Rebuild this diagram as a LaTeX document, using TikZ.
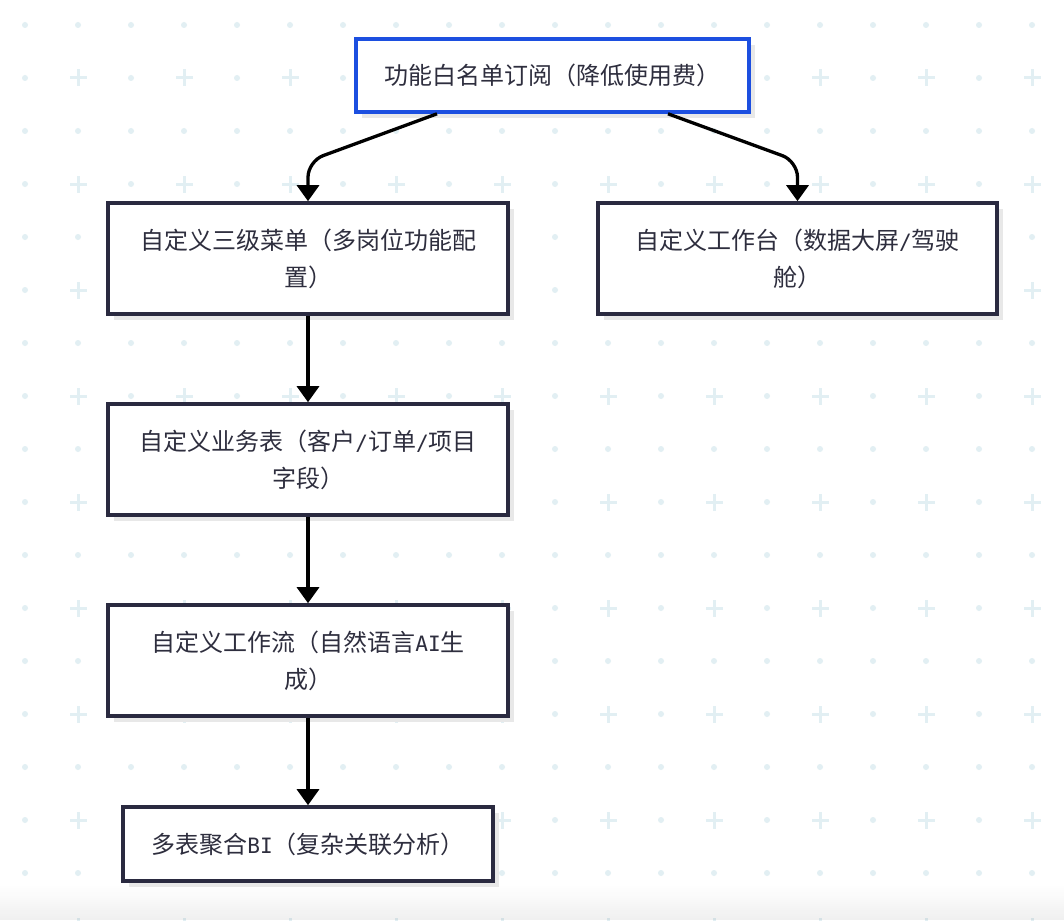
\documentclass[tikz,border=0pt]{standalone}
\usepackage{fontspec}
\setmainfont{Noto Sans CJK SC}
\newfontfamily\monof[Scale=0.88]{DejaVu Sans Mono}
\usetikzlibrary{arrows.meta,shadows}
\definecolor{gridc}{HTML}{E2EFF3}
\definecolor{txtc}{HTML}{2E2E3E}
\definecolor{bordc}{HTML}{2A2A40}
\definecolor{bluec}{HTML}{1C4FE0}
\definecolor{shadc}{HTML}{E8E8E8}
\newcommand{\mo}[1]{{\monof #1}}
\begin{document}
\begin{tikzpicture}[x=1pt,y=-1pt,
  box/.style={draw=bordc, line width=3.6pt, fill=white, text=txtc,
    align=center, font=\fontsize{24}{37}\selectfont, inner sep=0pt,
    drop shadow={opacity=1, fill=shadc, shadow xshift=6pt, shadow yshift=-6pt}},
  arr/.style={draw=black, line width=3.3pt, -{Triangle[length=16pt,width=22pt]}}]
\useasboundingbox (0,0) rectangle (1064,920);
\fill[white] (0,0) rectangle (1064,920);
% background grid
\foreach \i in {0,...,19}{
  \foreach \j in {0,...,17}{
    \pgfmathtruncatemacro{\isplus}{mod(\i,2)*mod(\j,2)}
    \ifnum\isplus=1
      \fill[gridc] ({25+53*\i-8.5},{25+53*\j-1.5}) rectangle ({25+53*\i+8.5},{25+53*\j+1.5});
      \fill[gridc] ({25+53*\i-1.5},{25+53*\j-8.5}) rectangle ({25+53*\i+1.5},{25+53*\j+8.5});
    \else
      \fill[gridc] ({25+53*\i},{25+53*\j}) circle (3);
    \fi
  }
}
% bottom fade
\foreach \k in {0,...,17}{
  \fill[black, fill opacity={\k*0.0035}] (0,{884+2*\k}) rectangle (1064,{886+2*\k});
}
% nodes
\node[box, draw=bluec, minimum width=393pt, minimum height=73pt] (top) at (552.5,75.5) {功能白名单订阅（降低使用费）};
\node[box, minimum width=400pt, minimum height=111pt] (a) at (308,258.5) {自定义三级菜单（多岗位功能配\\置）};
\node[box, minimum width=399pt, minimum height=111pt] (b) at (797.5,258.5) {自定义工作台（数据大屏\mo{/}驾驶\\舱）};
\node[box, minimum width=400pt, minimum height=111pt] (c) at (308,459.5) {自定义业务表（客户\mo{/}订单\mo{/}项目\\字段）};
\node[box, minimum width=400pt, minimum height=111pt] (d) at (308,660.5) {自定义工作流（自然语言\mo{AI}生\\成）};
\node[box, minimum width=370pt, minimum height=74pt] (e) at (308,844) {多表聚合\mo{BI}（复杂关联分析）};
% connectors
\draw[arr, rounded corners=16pt] ([xshift=-115.5pt]top.south) -- ([yshift=40pt]a.north) -- (a.north);
\draw[arr, rounded corners=16pt] ([xshift=115.5pt]top.south) -- ([yshift=40pt]b.north) -- (b.north);
\draw[arr] (a.south) -- (c.north);
\draw[arr] (c.south) -- (d.north);
\draw[arr] (d.south) -- (e.north);
\end{tikzpicture}
\end{document}
